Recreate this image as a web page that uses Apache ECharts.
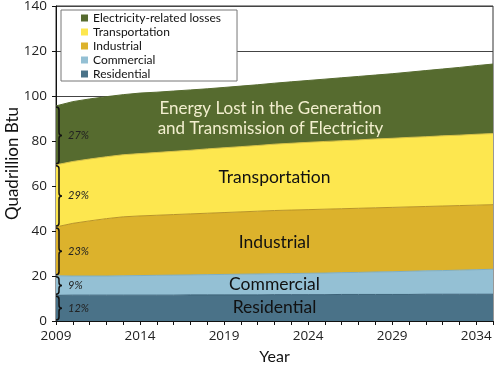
<!DOCTYPE html>
<html>
<head>
<meta charset="utf-8">
<script src="https://cdn.jsdelivr.net/npm/echarts@6/dist/echarts.min.js"></script>
<style>
html,body{margin:0;padding:0;background:#fff;}
#chart{width:500px;height:368px;}
</style>
</head>
<body>
<div id="chart"></div>
<script>
const years = ['2009','2010','2011','2012','2013','2014','2015','2016','2017','2018','2019','2020','2021','2022','2023','2024','2025','2026','2027','2028','2029','2030','2031','2032','2033','2034','2035'];
const residential = [11.4,11.5,11.5,11.5,11.5,11.5,11.5,11.5,11.6,11.6,11.6,11.6,11.6,11.7,11.7,11.7,11.7,11.8,11.8,11.8,11.8,11.8,11.9,11.9,11.9,11.9,11.9];
const commercial = [8.7,8.5,8.5,8.5,8.6,8.7,8.8,8.9,8.9,9.0,9.1,9.2,9.3,9.3,9.4,9.5,9.6,9.7,9.8,10.0,10.1,10.3,10.4,10.5,10.7,10.9,11.1];
const industrial = [21.7,23.4,24.5,25.5,26.2,26.5,26.7,26.9,27.1,27.3,27.5,27.7,27.9,28.1,28.2,28.3,28.4,28.4,28.5,28.5,28.6,28.6,28.6,28.7,28.7,28.7,28.7];
const transportation = [27.6,27.5,27.5,27.5,27.6,27.7,27.9,28.1,28.3,28.6,28.8,29.0,29.2,29.5,29.7,29.9,30.1,30.2,30.4,30.6,30.7,30.9,31.0,31.2,31.3,31.5,31.6];
const electricityLosses = [26.2,26.6,26.7,26.7,26.7,26.9,26.8,26.8,26.8,26.7,26.8,26.9,27.0,27.1,27.3,27.5,27.7,28.0,28.2,28.4,28.7,29.0,29.4,29.7,30.1,30.5,30.9];

const seriesNames = ['Residential','Commercial','Industrial','Transportation','Electricity-related losses'];
const legendOrder = ['Electricity-related losses','Transportation','Industrial','Commercial','Residential'];
const sharePct2009 = ['12%','9%','23%','29%','27%'];
const layerLabels = ['Residential','Commercial','Industrial','Transportation','Energy Lost in the Generation\nand Transmission of Electricity'];
const labelYear = '2022';
const xLabelYears = ['2009','2014','2019','2024','2029','2034'];

const layers = [residential, commercial, industrial, transportation, electricityLosses];
const areaColors = ['#4a7288','#94c0d4','#dcb22c','#fde74f','#566b2f'];
const edgeColors = ['#3d6379','#7faec3','#b99427','#d8c245','#566b2f'];

function layerRange(layer, idx) {
  let base = 0;
  for (let k = 0; k < layer; k++) base += layers[k][idx];
  return [base, base + layers[layer][idx]];
}

const chart = echarts.init(document.getElementById('chart'), null, {renderer: 'canvas'});
const FONT = 'Lato';
const TICKFONT = 'Open Sans';

const series = seriesNames.map((name, i) => ({
  name: name,
  type: 'line',
  stack: 'total',
  data: layers[i],
  symbol: 'none',
  smooth: false,
  lineStyle: {width: 1, color: edgeColors[i]},
  itemStyle: {color: areaColors[i]},
  areaStyle: {color: areaColors[i], opacity: 1},
  emphasis: {disabled: true},
  z: 2
}));

// braces with 2009 shares
series.push({
  type: 'custom',
  name: 'braces',
  data: sharePct2009.map((p, i) => [0, i]),
  z: 10,
  silent: true,
  renderItem: function (params, api) {
    const i = params.dataIndex;
    const r = layerRange(i, 0);
    const pb = api.coord([0, r[0]]);
    const pt = api.coord([0, r[1]]);
    const x = pb[0] + 1;
    const y1 = pt[1] + 1, y2 = pb[1] - 1, ym = (y1 + y2) / 2;
    const d = 'M' + (x - 1) + ',' + y1 + ' Q' + (x + 2) + ',' + y1 + ' ' + (x + 2) + ',' + (y1 + 3) +
      ' L' + (x + 2) + ',' + (ym - 3) + ' Q' + (x + 2) + ',' + ym + ' ' + (x + 5) + ',' + ym +
      ' Q' + (x + 2) + ',' + ym + ' ' + (x + 2) + ',' + (ym + 3) +
      ' L' + (x + 2) + ',' + (y2 - 3) + ' Q' + (x + 2) + ',' + y2 + ' ' + (x - 1) + ',' + y2;
    return {
      type: 'group',
      children: [
        {type: 'path', shape: {pathData: d}, style: {fill: null, stroke: '#111', lineWidth: 1.5}},
        {type: 'text', style: {text: sharePct2009[i], x: x + 11, y: ym, fill: '#222', font: 'italic 11px ' + FONT, textAlign: 'left', textVerticalAlign: 'middle'}}
      ]
    };
  }
});

// in-area labels
series.push({
  type: 'custom',
  name: 'labels',
  data: layerLabels.map((t, i) => [years.indexOf(labelYear), i]),
  z: 10,
  silent: true,
  renderItem: function (params, api) {
    const i = params.dataIndex;
    const idx = years.indexOf(labelYear);
    const r = layerRange(i, idx);
    const p = api.coord([idx, (r[0] + r[1]) / 2]);
    const isLoss = i === 4;
    return {
      type: 'text',
      style: {
        text: layerLabels[i], x: p[0] - (isLoss ? 4 : 0), y: p[1] + (isLoss ? 5 : 0),
        fill: isLoss ? '#f3efcf' : '#111',
        font: (isLoss ? '17px ' : '17.5px ') + FONT,
        lineHeight: 20,
        textAlign: 'center', textVerticalAlign: 'middle'
      }
    };
  }
});

chart.setOption({
  animation: false,
  backgroundColor: '#fff',
  textStyle: {fontFamily: FONT},
  grid: {left: 56, right: 7, top: 6, bottom: 47, containLabel: false, outerBoundsMode: 'none', show: true, borderColor: '#333', borderWidth: 1, backgroundColor: 'transparent'},
  legend: {
    data: legendOrder,
    orient: 'vertical',
    left: 61, top: 10,
    padding: [2, 16, 1, 20],
    backgroundColor: '#fff',
    borderColor: '#777',
    borderWidth: 1,
    itemWidth: 7, itemHeight: 7,
    itemGap: 2,
    icon: 'rect',
    textStyle: {fontSize: 12, color: '#111', fontFamily: FONT, lineHeight: 12},
    selectedMode: false
  },
  xAxis: {
    type: 'category',
    data: years,
    boundaryGap: false,
    name: 'Year',
    nameLocation: 'middle',
    nameGap: 28,
    nameMoveOverlap: false,
    nameTextStyle: {fontSize: 16, color: '#111', fontFamily: FONT},
    axisLine: {lineStyle: {color: '#111', width: 1}},
    axisTick: {interval: 0, length: 4, lineStyle: {color: '#111'}},
    axisLabel: {
      interval: function (index, value) { return xLabelYears.indexOf(value) >= 0; },
      fontSize: 13.5, color: '#222', margin: 8, fontFamily: TICKFONT
    },
    splitLine: {show: false}
  },
  yAxis: {
    type: 'value',
    min: 0, max: 140, interval: 20,
    name: 'Quadrillion Btu',
    nameLocation: 'middle',
    nameGap: 35,
    nameMoveOverlap: false,
    nameTextStyle: {fontSize: 17, color: '#111', fontFamily: FONT},
    axisLine: {show: true, lineStyle: {color: '#111', width: 1}},
    axisTick: {show: true, length: 4, lineStyle: {color: '#111'}},
    axisLabel: {fontSize: 13.5, color: '#222', margin: 9, fontFamily: TICKFONT},
    splitLine: {show: true, lineStyle: {color: '#444', width: 1}}
  },
  series: series
});
</script>
</body>
</html>
